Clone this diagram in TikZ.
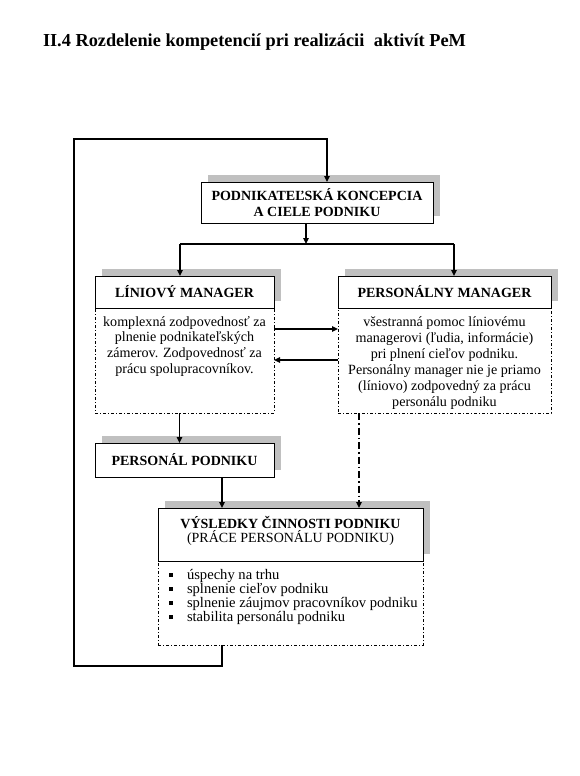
\documentclass[tikz,border=0pt]{standalone}
\usepackage{fontspec}
\setmainfont{Liberation Serif}
\usetikzlibrary{arrows.meta,shadows}
\definecolor{shd}{RGB}{192,192,192}
\newcommand\bulletsq{\makebox[29pt][l]{\hspace{11pt}\rule[2.5pt]{4pt}{4pt}}}
\begin{document}
\begin{tikzpicture}[x=1pt,y=-1pt,
  every node/.style={inner sep=0pt, outer sep=0pt},
  headbox/.style={draw, line width=0.9pt, fill=white,
    general shadow={fill=shd, shadow xshift=7pt, shadow yshift=7pt}},
  head/.style={headbox, align=center, font=\bfseries\fontsize{14}{16}\selectfont},
  bodybox/.style={draw, line width=0.7pt, dash pattern=on 3pt off 2pt on 1pt off 2pt},
  conn/.style={line width=1.4pt, -{Triangle[length=6pt,width=5.5pt]}},
  plainline/.style={line width=1.4pt},
  dashdotconn/.style={conn, dash pattern=on 7pt off 3pt on 1.5pt off 3pt}]
\useasboundingbox[fill=white] (0,0) rectangle (579,776);

\node[anchor=base west, font=\bfseries\fontsize{18.3}{20}\selectfont] (title) at (43,47)
  {II.4 Rozdelenie kompetencií pri realizácii\hspace{5pt} aktivít PeM};

% bodies
\node[bodybox, anchor=north west] (Lb) at (95,308)
  {\begin{minipage}[t][105pt][t]{179pt}\centering\fontsize{14.1}{15.8}\selectfont
   \rule{0pt}{18pt}komplexná zodpovednosť za\\plnenie podnikateľských\\zámerov. Zodpovednosť za\\prácu spolupracovníkov.\end{minipage}};
\node[bodybox, anchor=north west] (Rb) at (338,308)
  {\begin{minipage}[t][105pt][t]{213pt}\centering\fontsize{14.1}{16}\selectfont
   \rule{0pt}{18pt}všestranná pomoc líniovému\\managerovi (ľudia, informácie)\\pri plnení cieľov podniku.\\Personálny manager nie je priamo\\(líniovo) zodpovedný za prácu\\personálu podniku\end{minipage}};
\node[bodybox, anchor=north west] (Vb) at (158,561)
  {\begin{minipage}[t][84pt][t]{265pt}\fontsize{14.6}{14.2}\selectfont
   \rule{0pt}{18pt}\bulletsq úspechy na trhu\\\bulletsq splnenie cieľov podniku\\\bulletsq splnenie záujmov pracovníkov podniku\\\bulletsq stabilita personálu podniku\end{minipage}};

% heads
\node[head, minimum width=232pt, minimum height=41pt, anchor=north west] (P) at (201,182)
  {PODNIKATEĽSKÁ KONCEPCIA\\A CIELE PODNIKU};
\node[head, minimum width=179pt, minimum height=32pt, anchor=south west] (Lh) at (95,308)
  {LÍNIOVÝ MANAGER};
\node[head, minimum width=213pt, minimum height=32pt, anchor=south west] (Rh) at (338,308)
  {PERSONÁLNY MANAGER};
\node[head, minimum width=179pt, minimum height=34pt, anchor=north west] (PP) at (95,443)
  {PERSONÁL PODNIKU};
\node[headbox, anchor=south west] (Vh) at (158,561)
  {\begin{minipage}[t][53pt][t]{265pt}\centering\fontsize{14}{14.5}\selectfont
   \rule{0pt}{20pt}\textbf{VÝSLEDKY ČINNOSTI PODNIKU}\\(PRÁCE PERSONÁLU PODNIKU)\end{minipage}};

% coordinates
\coordinate (lb) at (74,666);
\coordinate (lt) at (74,139);
\coordinate (sl) at (180,244);
\coordinate (sr) at (454,244);
\coordinate (pd) at ([xshift=-11pt]P.south);
\coordinate (ld) at ([xshift=-5pt]Lb.south);
\coordinate (ppd) at ([xshift=37.5pt]PP.south);
\coordinate (rd) at ([xshift=21pt]Rb.south west);

% connectors
\draw[conn] ([xshift=64pt]Vb.south west) |- (lb) -- (lt) -| ([xshift=10pt]P.north);
\draw[conn] (pd) -- (pd |- sl);
\draw[plainline] (sl) -- (sr);
\draw[conn] (sl) -- (sl |- Lh.north);
\draw[conn] (sr) -- (sr |- Rh.north);
\draw[conn] ([yshift=-21pt]Lb.north east) -- ([yshift=-21pt]Rb.north west);
\draw[conn] ([yshift=-52pt]Rb.north west) -- ([yshift=-52pt]Lb.north east);
\draw[conn] (ld) -- (ld |- PP.north);
\draw[conn] (ppd) -- (ppd |- Vh.north);
\draw[dashdotconn] (rd) -- (rd |- Vh.north);
\end{tikzpicture}
\end{document}
